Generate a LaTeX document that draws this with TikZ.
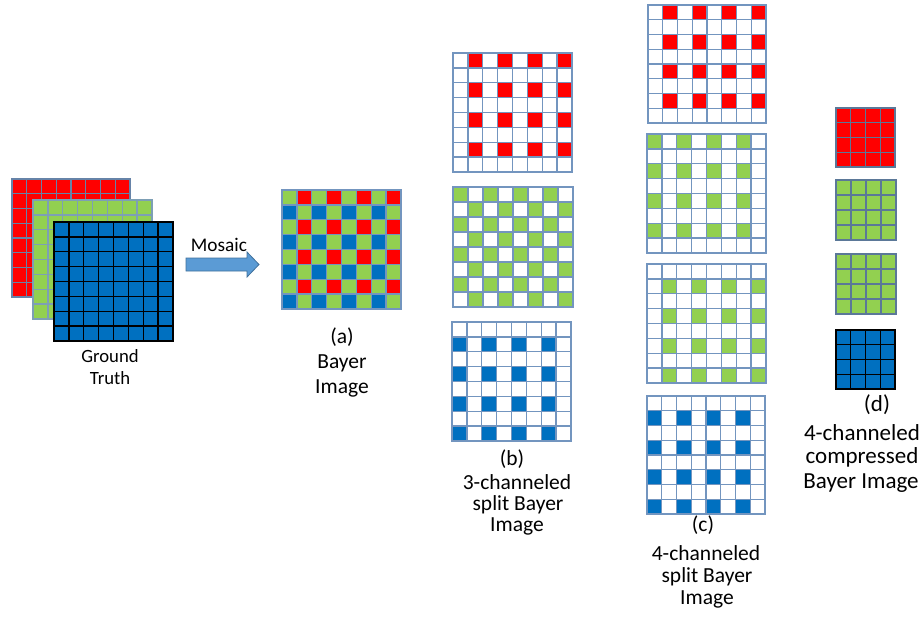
\documentclass[tikz,border=0pt]{standalone}
\usepackage{fontspec}
\setmainfont{Carlito}
\definecolor{bred}{HTML}{FF0000}
\definecolor{bgreen}{HTML}{92D050}
\definecolor{bblue}{HTML}{0070C0}
\definecolor{gridline}{HTML}{7395BF}
\definecolor{gridlinedark}{HTML}{5B7898}
\definecolor{redline}{HTML}{6683A8}
\definecolor{greenline}{HTML}{7D9FB5}
\definecolor{arrowfill}{HTML}{5B9BD5}
\definecolor{arrowline}{HTML}{41719C}

\tikzset{
  gridpen/.style={line width=1.3pt},
  lbl/.style={anchor=base, inner sep=0pt, font=\fontsize{21.5}{24}\selectfont},
  lblsmall/.style={lbl, font=\fontsize{18.7}{22}\selectfont},
  lblbig/.style={lbl, font=\fontsize{23}{25}\selectfont},
  blockarrow/.style={fill=arrowfill, draw=arrowline, line width=0.8pt, line join=miter}
}

% Colour-filter grid: x0, y0, side, cells per side,
% colours for (even row, even col), (even, odd), (odd, even), (odd, odd), line colour
\newcommand\mosaicgrid[9]{%
  \pgfmathsetmacro\cellsz{#3/#4}%
  \pgfmathtruncatemacro\lastidx{#4-1}%
  \foreach \r in {0,...,\lastidx}{%
    \foreach \c in {0,...,\lastidx}{%
      \pgfmathtruncatemacro\rp{mod(\r,2)}%
      \pgfmathtruncatemacro\cp{mod(\c,2)}%
      \ifnum\rp=0 \ifnum\cp=0 \def\cellcol{#5}\else\def\cellcol{#6}\fi
      \else \ifnum\cp=0 \def\cellcol{#7}\else\def\cellcol{#8}\fi\fi
      \fill[\cellcol] ({#1+\c*\cellsz},{#2+\r*\cellsz}) rectangle ++(\cellsz,\cellsz);
    }%
  }%
  \foreach \k in {1,...,\lastidx}{%
    \draw[gridpen,#9] ({#1+\k*\cellsz},#2) -- ++(0,#3);
    \draw[gridpen,#9] (#1,{#2+\k*\cellsz}) -- ++(#3,0);
  }%
  \draw[gridpen,#9] (#1,#2) rectangle ++(#3,#3);
}

\begin{document}
\begin{tikzpicture}[x=1pt,y=-1pt]
\useasboundingbox[fill=white] (0,0) rectangle (923,616);

% ground truth: three full colour planes
\mosaicgrid{12}{179}{118}{8}{bred}{bred}{bred}{bred}{redline}
\mosaicgrid{33}{200}{119}{8}{bgreen}{bgreen}{bgreen}{bgreen}{greenline}
\mosaicgrid{54}{222}{119}{8}{bblue}{bblue}{bblue}{bblue}{black}
\node[lblsmall] (gt1) at (110,362) {Ground};
\node[lblsmall] (gt2) at (110,384) {Truth};

% mosaic step
\filldraw[blockarrow] (186,258) -- (247,258) -- (247,252) -- (259,264.5)
  -- (247,277) -- (247,271) -- (186,271) -- cycle;
\node[lblsmall, font=\fontsize{19.3}{22}\selectfont] (mosaic) at (219,251) {Mosaic};

% (a) Bayer image
\mosaicgrid{282}{190}{119}{8}{bgreen}{bred}{bblue}{bgreen}{gridline}
\node[lbl] (a1) at (342,343) {(a)};
\node[lbl] (a2) at (342,368) {Bayer};
\node[lbl] (a3) at (342,393) {Image};

% (b) 3-channel split
\mosaicgrid{453}{53}{119}{8}{white}{bred}{white}{white}{gridline}
\mosaicgrid{453}{187}{120}{8}{bgreen}{white}{white}{bgreen}{gridline}
\mosaicgrid{452}{322}{119}{8}{white}{white}{bblue}{white}{gridline}
\node[lbl] (b1) at (512,465) {(b)};
\node[lbl] (b2) at (517,489) {3-channeled};
\node[lbl] (b3) at (518,510) {split Bayer};
\node[lbl] (b4) at (517,531) {Image};

% (c) 4-channel split
\mosaicgrid{648}{5}{118}{8}{white}{bred}{white}{white}{gridline}
\mosaicgrid{647}{134}{119}{8}{bgreen}{white}{white}{white}{gridline}
\mosaicgrid{647}{264}{119}{8}{white}{white}{white}{bgreen}{gridline}
\mosaicgrid{647}{396}{118}{8}{white}{white}{bblue}{white}{gridline}
\node[lbl] (c1) at (703,531) {(c)};
\node[lbl] (c2) at (706,560) {4-channeled};
\node[lbl] (c3) at (707,582) {split Bayer};
\node[lbl] (c4) at (707,604) {Image};

% (d) 4-channel compressed
\mosaicgrid{836}{108}{59}{4}{bred}{bred}{bred}{bred}{gridlinedark}
\mosaicgrid{836}{180}{60}{4}{bgreen}{bgreen}{bgreen}{bgreen}{gridlinedark}
\mosaicgrid{836}{254}{60}{4}{bgreen}{bgreen}{bgreen}{bgreen}{gridlinedark}
\mosaicgrid{836}{330}{59}{4}{bblue}{bblue}{bblue}{bblue}{black}
\node[lblbig] (d1) at (877,411) {(d)};
\node[lblbig] (d2) at (862,440) {4-channeled};
\node[lblbig] (d3) at (862,463) {compressed};
\node[lblbig] (d4) at (861,488) {Bayer Image};
\end{tikzpicture}
\end{document}
